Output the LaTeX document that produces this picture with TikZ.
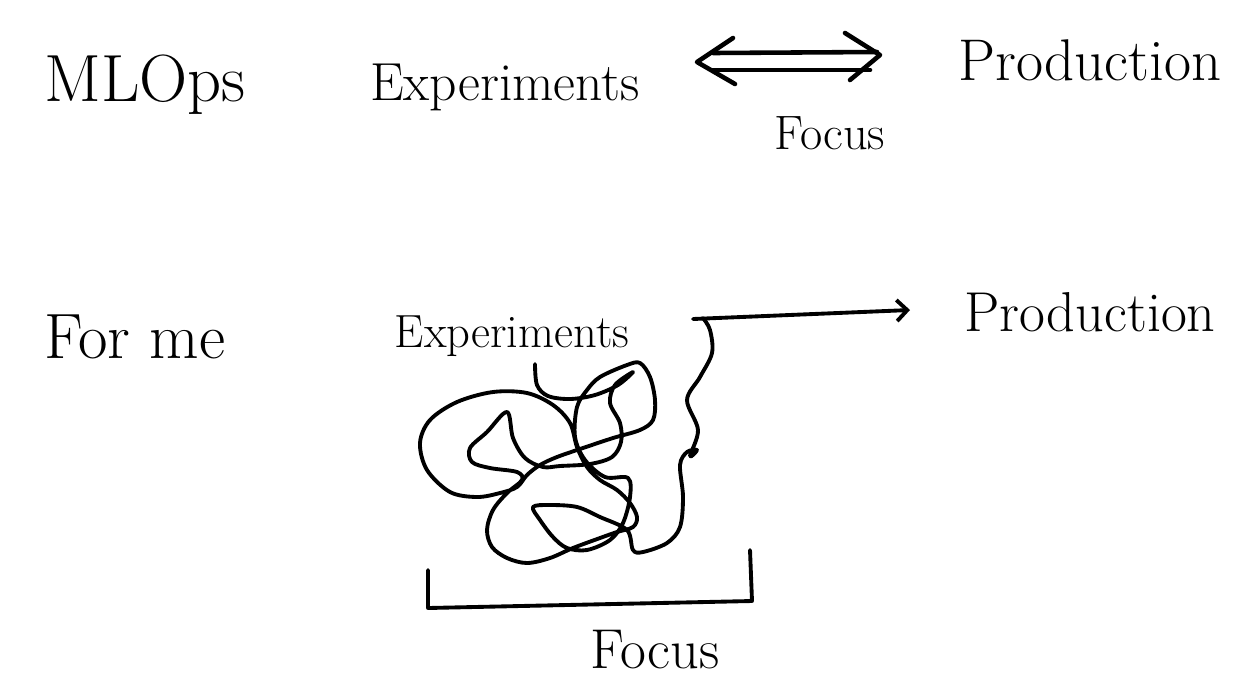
\documentclass[tikz,border=0pt]{standalone}
\usepackage{tikz}
\usetikzlibrary{arrows.meta,calc}

\tikzset{
  hand/.style={inner sep=0pt, font=\fontsize{#1}{#1}\selectfont},
  pen/.style={line width=2.2pt, line cap=round, line join=round}
}

\begin{document}
\begin{tikzpicture}[x=0.02cm,y=-0.02cm]
\path (0,0) rectangle (1234,681);
% top row
\node[hand=38] (mlops) at (145,85) {MLOps};
\node[hand=30.5] (expTop) at (505,87) {Experiments};
\node[hand=33.5] (prodTop) at (1090,60) {Production};
\node[hand=27.5] (focusTop) at (830,133) {Focus};
\coordinate (dl) at (697,62);
\coordinate (dr) at (880,55);
\draw[pen,line width=2.6pt] ($(dl)+(16,-9)$) -- ($(dr)+(-3,-3)$);
\draw[pen,line width=2.6pt] ($(dl)+(16,8)$) -- ($(dr)+(-10,15)$);
\draw[pen,line width=2.6pt] ($(dl)+(36,-24)$) -- (dl) -- ($(dl)+(38,22)$);
\draw[pen,line width=2.6pt] ($(dr)+(-35,-22)$) -- (dr) -- ($(dr)+(-30,25)$);
% bottom row
\node[hand=36.5] (forme) at (135,337) {For me};
\node[hand=26.5] (expBot) at (512,336) {Experiments};
\node[hand=32] (prodBot) at (1090,312) {Production};
\node[hand=32] (focusBot) at (655,650) {Focus};
% scribble
\coordinate (kink) at (703,318);
\coordinate (tip) at (910,310);
\draw[pen] plot[smooth,tension=0.55] coordinates {
  (535,364) (537,385) (548,396) (570,399) (595,395) (618,385) (633,372)
  (615,385) (610,403) (620,423) (621,442) (612,457) (590,464) (560,466) (543,467)
  (525,458) (513,438) (507,412) (487,432) (470,448) (472,462) (490,468) (517,472) (522,480)
  (507,493) (493,510) (487,530) (492,547) (507,558) (527,563) (550,558) (573,548)
  (600,538) (617,532) (633,527) (637,517) (630,503) (617,490) (600,480) (587,467)
  (577,447) (570,423) (553,405) (527,393) (493,392) (457,402) (430,420) (420,443)
  (427,470) (450,492) (477,497) (500,493) (517,487) (527,475) (540,465) (557,457)
  (583,448) (613,438) (640,430) (653,420) (655,400) (650,377) (640,363) (627,365)
  (600,377) (587,390) (577,407) (575,437) (585,460) (605,477) (628,478)
  (630,497) (623,523) (610,540) (587,550) (567,548) (553,537) (540,520) (533,507)
  (550,505) (577,507) (600,517) (627,530) (633,550) (643,552) (667,543) (680,527)
  (683,497) (680,465) (687,452) (697,450) (690,456) (698,430) (687,400) (700,377)
  (712,353) (710,330) (kink)};
\draw[pen,-{Straight Barb[length=6pt,width=12pt]}] ($(kink)+(-10,1)$) -- (tip);
% bracket
\draw[pen] (428,570) -- (428,608) -- (752,601) -- (750,550);
\end{tikzpicture}
\end{document}
